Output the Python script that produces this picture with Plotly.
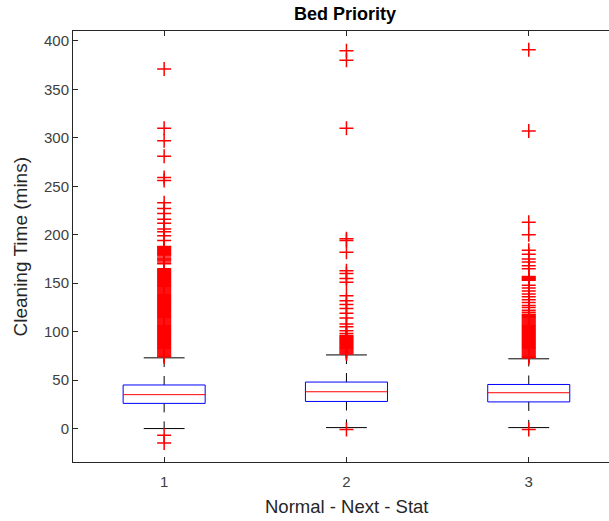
import plotly.graph_objects as go

# ---- data ----
groups = [1, 2, 3]
tick_labels = ["1", "2", "3"]
q1 = [26, 28, 27.5]
median = [35, 38, 37]
q3 = [45, 48, 45.5]
whisker_lo = [0, 1, 1]
whisker_hi = [73, 76, 72]

outliers_1 = [-15, -7, 371, 310, 297, 281, 259, 256, 233, 227, 222, 216, 212, 206, 203, 199, 194,
              188, 187, 186, 185, 184, 183, 182, 181, 180, 179, 178, 176, 175, 174, 173, 171, 170,
              165, 164, 163, 162, 161, 160, 159, 158, 157, 156, 155, 154, 153, 152, 151, 150,
              149, 148, 147, 146, 145, 144, 143, 142, 141, 140, 139, 138, 137, 136, 135, 134,
              133, 132, 131, 130, 129, 128, 127, 126, 125, 124, 123, 122, 121, 120, 119, 118,
              117, 116, 115, 114, 113, 112, 111, 110, 109, 108, 107, 106, 105, 104, 103, 102,
              101, 100, 99, 98, 97, 96, 95, 94, 93, 92, 91, 90, 89, 88, 87, 86, 85, 84, 83, 82,
              81, 80, 79, 78, 77, 76, 75, 74]
outliers_2 = [-1, 390, 380, 310, 196, 194, 182, 163, 160, 155, 151, 137, 132, 128, 124, 119, 114,
              108, 105, 101, 98, 96, 95, 94, 93, 92, 91, 90, 89, 88, 87, 86, 85, 84, 83, 82, 81,
              80, 79, 78, 77]
outliers_3 = [-1, 391, 307, 213, 200, 184, 180, 175, 172, 168, 165, 157, 156, 155, 154, 153, 148,
              145, 142, 139, 136, 133, 130, 127, 125, 122, 120, 118, 117, 116, 115, 114, 113, 112,
              111, 110, 109, 108, 107, 106, 105, 104, 103, 102, 101, 100, 99, 98, 97, 96, 95, 94,
              93, 92, 91, 90, 89, 88, 87, 86, 85, 84, 83, 82, 81, 80, 79, 78, 77, 76, 75, 74, 73]
outliers = [outliers_1, outliers_2, outliers_3]

BOX_HALF = 0.225
CAP_HALF = 0.112
BLUE = "#0000FF"
RED = "#FF0000"
BLACK = "#000000"

fig = go.Figure()
for g, a, m, b, lo, hi, outs in zip(groups, q1, median, q3, whisker_lo, whisker_hi, outliers):
    # whiskers (dashed)
    fig.add_trace(go.Scatter(x=[g, g, None, g, g], y=[b, hi, None, a, lo], mode="lines",
                             line=dict(color=BLACK, width=1, dash="dash"), hoverinfo="skip"))
    # caps
    fig.add_trace(go.Scatter(x=[g - CAP_HALF, g + CAP_HALF, None, g - CAP_HALF, g + CAP_HALF],
                             y=[hi, hi, None, lo, lo], mode="lines",
                             line=dict(color=BLACK, width=1), hoverinfo="skip"))
    # box
    fig.add_trace(go.Scatter(x=[g - BOX_HALF, g + BOX_HALF, g + BOX_HALF, g - BOX_HALF, g - BOX_HALF],
                             y=[a, a, b, b, a], mode="lines",
                             line=dict(color=BLUE, width=1), hoverinfo="skip"))
    # median
    fig.add_trace(go.Scatter(x=[g - BOX_HALF, g + BOX_HALF], y=[m, m], mode="lines",
                             line=dict(color=RED, width=1), hoverinfo="skip"))
    # outliers
    fig.add_trace(go.Scatter(x=[g] * len(outs), y=outs, mode="markers",
                             marker=dict(symbol="cross-thin", size=10,
                                         line=dict(color=RED, width=1.5)),
                             hoverinfo="skip"))

W, H = 609, 521
L, R, T, B = 73, 0, 31, 59
pw = W - L - R
ph = H - T - B
FONT = "Liberation Sans, Arial, sans-serif"
TXT = "#262626"

fig.update_layout(
    width=W, height=H,
    margin=dict(l=L, r=R, t=T, b=B),
    paper_bgcolor="white", plot_bgcolor="white",
    showlegend=False,
    font=dict(family=FONT, size=15, color=TXT),
    xaxis=dict(range=[0.5, 0.5 + pw / 182.3], tickvals=groups, ticktext=tick_labels,
               ticks="inside", ticklen=5, tickcolor=TXT, showline=True, linecolor=TXT,
               linewidth=1, mirror="ticks", showgrid=False, zeroline=False,
               ticklabelstandoff=6, tickfont=dict(size=15, color="#404040")),
    yaxis=dict(range=[-34.5, 410.3], tickvals=[0, 50, 100, 150, 200, 250, 300, 350, 400],
               ticks="inside", ticklen=5, tickcolor=TXT, showline=True, linecolor=TXT,
               linewidth=1, showgrid=False, zeroline=False,
               tickfont=dict(size=15, color="#404040")),
    annotations=[
        dict(text="<b>Bed Priority</b>", xref="paper", yref="paper",
             x=(345 - L) / pw, y=1 + (T - 14) / ph, xanchor="center", yanchor="middle",
             showarrow=False, font=dict(size=18, color="#000000", family=FONT)),
        dict(text="Normal - Next - Stat", xref="paper", yref="paper",
             x=(346 - L) / pw, y=-(507 - (H - B)) / ph, xanchor="center", yanchor="middle",
             showarrow=False, font=dict(size=18.5, color=TXT, family=FONT)),
        dict(text="Cleaning Time (mins)", xref="paper", yref="paper",
             x=(20 - L) / pw, y=0.5, xanchor="center", yanchor="middle", textangle=-90,
             showarrow=False, font=dict(size=19, color=TXT, family=FONT)),
    ],
)

fig.write_html("out.html")
